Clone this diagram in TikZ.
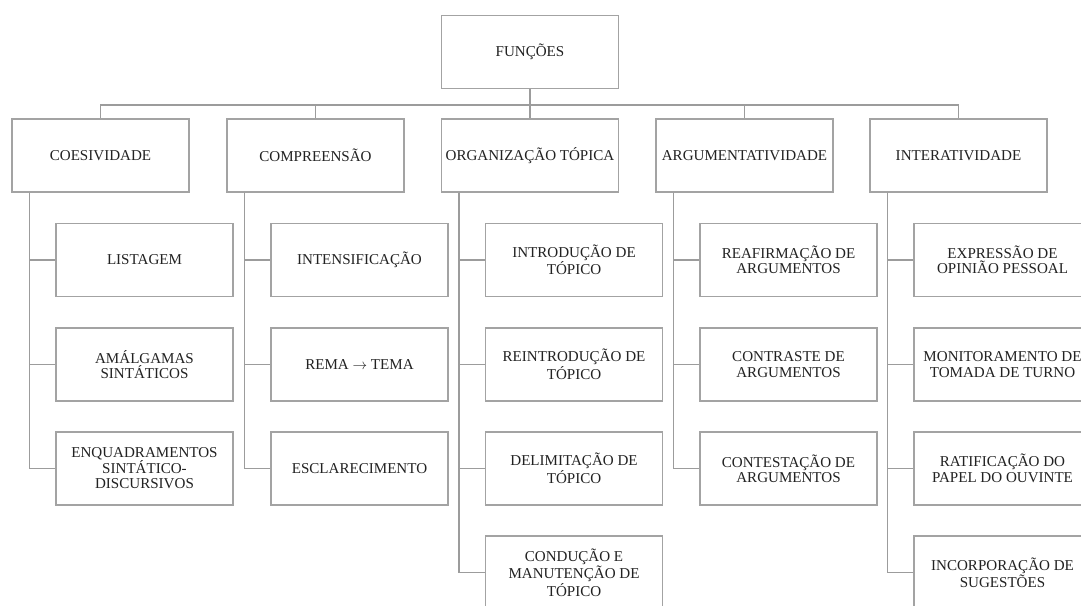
\documentclass[tikz,border=0pt]{standalone}
\usepackage{fontspec}
\setmainfont{Liberation Serif}
\definecolor{boxline}{HTML}{A3A3A3}
\definecolor{linkline}{HTML}{9C9C9C}
\definecolor{labeltext}{HTML}{222222}
\begin{document}
\begin{tikzpicture}[
    x=0.75pt, y=-0.75pt,
    func/.style={rectangle, draw=boxline, line width=0.8pt, minimum width=132.75pt, minimum height=54.75pt, inner sep=1pt, align=center, text=labeltext, font=\fontsize{11.3}{11.6}\selectfont},
    link/.style={draw=linkline, line width=0.8pt},
]

\useasboundingbox (0,0) rectangle (1081,606);
\clip (0,0) rectangle (1081,606);
\fill[white] (0,0) rectangle (1081,606);

\node[func] (fun) at (530,52) {FUNÇÕES};

\node[func] (coe) at (100.5,155.5) {COESIVIDADE};
\node[func] (comp) at (315.5,155.5) {COMPREENSÃO};
\node[func] (org) at (530,155.5) {ORGANIZAÇÃO TÓPICA};
\node[func] (arg) at (744.5,155.5) {ARGUMENTATIVIDADE};
\node[func] (inter) at (958.5,155.5) {INTERATIVIDADE};

% coesividade
\node[func] (lis) at (144.5,260) {LISTAGEM};
\node[func] (ama) at (144.5,364.5) {AMÁLGAMAS\\SINTÁTICOS};
\node[func] (enq) at (144.5,468.5) {ENQUADRAMENTOS\\SINTÁTICO-\\DISCURSIVOS};

% compreensao
\node[func] (ints) at (359.5,260) {INTENSIFICAÇÃO};
\node[func] (rema) at (359.5,364.5) {REMA $\rightarrow$ TEMA};
\node[func] (escl) at (359.5,468.5) {ESCLARECIMENTO};

% organizacao topica
\node[func] (intr) at (574,260) {INTRODUÇÃO DE\\TÓPICO};
\node[func] (reintr) at (574,364.5) {REINTRODUÇÃO DE\\TÓPICO};
\node[func] (delim) at (574,468.5) {DELIMITAÇÃO DE\\TÓPICO};
\node[func] (cond) at (574,572.5) {CONDUÇÃO E\\MANUTENÇÃO DE\\TÓPICO};

% argumentatividade
\node[func] (reaf) at (788.5,260) {REAFIRMAÇÃO DE\\ARGUMENTOS};
\node[func] (contr) at (788.5,364.5) {CONTRASTE DE\\ARGUMENTOS};
\node[func] (contest) at (788.5,468.5) {CONTESTAÇÃO DE\\ARGUMENTOS};

% interatividade
\node[func] (expr) at (1002.5,260) {EXPRESSÃO DE\\OPINIÃO PESSOAL};
\node[func] (monit) at (1002.5,364.5) {MONITORAMENTO DE\\TOMADA DE TURNO};
\node[func] (ratif) at (1002.5,468.5) {RATIFICAÇÃO DO\\PAPEL DO OUVINTE};
\node[func] (incorp) at (1002.5,572.5) {INCORPORAÇÃO DE\\SUGESTÕES};

\draw[link] (fun.south) -- ++(0,16) -| (coe.north);
\draw[link] (fun.south) -- ++(0,16) -| (comp.north);
\draw[link] (fun.south) -- (org.north);
\draw[link] (fun.south) -- ++(0,16) -| (arg.north);
\draw[link] (fun.south) -- ++(0,16) -| (inter.north);

\draw[link] ([xshift=13.5pt]coe.south west) |- (lis.west);
\draw[link] ([xshift=13.5pt]coe.south west) |- (ama.west);
\draw[link] ([xshift=13.5pt]coe.south west) |- (enq.west);

\draw[link] ([xshift=13.5pt]comp.south west) |- (ints.west);
\draw[link] ([xshift=13.5pt]comp.south west) |- (rema.west);
\draw[link] ([xshift=13.5pt]comp.south west) |- (escl.west);

\draw[link] ([xshift=13.5pt]org.south west) |- (intr.west);
\draw[link] ([xshift=13.5pt]org.south west) |- (reintr.west);
\draw[link] ([xshift=13.5pt]org.south west) |- (delim.west);
\draw[link] ([xshift=13.5pt]org.south west) |- (cond.west);

\draw[link] ([xshift=13.5pt]arg.south west) |- (reaf.west);
\draw[link] ([xshift=13.5pt]arg.south west) |- (contr.west);
\draw[link] ([xshift=13.5pt]arg.south west) |- (contest.west);

\draw[link] ([xshift=13.5pt]inter.south west) |- (expr.west);
\draw[link] ([xshift=13.5pt]inter.south west) |- (monit.west);
\draw[link] ([xshift=13.5pt]inter.south west) |- (ratif.west);
\draw[link] ([xshift=13.5pt]inter.south west) |- (incorp.west);

\end{tikzpicture}
\end{document}
